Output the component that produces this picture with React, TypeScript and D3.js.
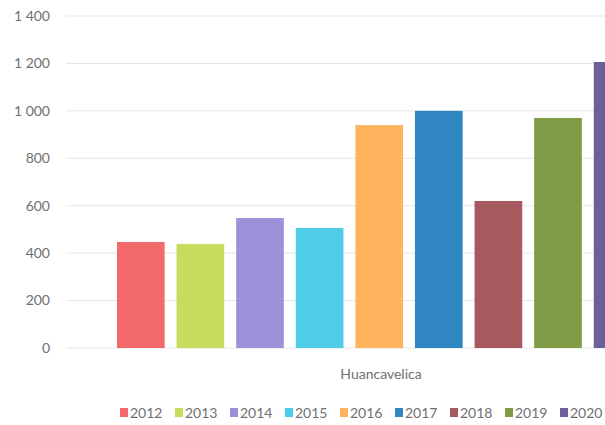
import React from "react";
import * as d3 from "d3";

const categories = ["Huancavelica"];
const years = ["2012", "2013", "2014", "2015", "2016", "2017", "2018", "2019", "2020"];
const values = [447, 439, 548, 506, 940, 1000, 620, 970, 1206];
const colors = ["#F26A6C", "#C6DC5C", "#9C90D8", "#4ECDEB", "#FDB45C", "#2F86C0", "#A65A5F", "#7F9B46", "#6B5F9C"];
const yTicks = [0, 200, 400, 600, 800, 1000, 1200, 1400];

const W = 605;
const H = 425;
const FONT = "Lato, 'Open Sans', sans-serif";

export default function App() {
  const y = d3.scaleLinear().domain([0, 1400]).range([348, 16]);
  const x0 = d3.scaleBand<string>().domain(categories).range([65, 697]);
  const x1 = d3
    .scaleBand<string>()
    .domain(years)
    .range([111, 647.4])
    .paddingInner(0.2)
    .paddingOuter(0.1);
  const fmt = (v: number) => d3.format(",")(v).replace(/,/g, " ");

  return (
    <svg width={W} height={H} style={{ position: "absolute", left: 0, top: 0, background: "#fff" }}>
      {yTicks.map((t) => (
        <g key={t}>
          <line x1={66} x2={W} y1={y(t)} y2={y(t)} stroke="#e6e6e6" strokeWidth={1} />
          <text x={50} y={y(t)} dy="0.35em" textAnchor="end" fontFamily={FONT} fontSize={14} fill="#707070">
            {fmt(t)}
          </text>
        </g>
      ))}
      {years.map((yr, i) => (
        <rect
          key={yr}
          x={x1(yr)}
          y={y(values[i])}
          width={x1.bandwidth()}
          height={y(0) - y(values[i])}
          fill={colors[i]}
        />
      ))}
      {categories.map((c) => (
        <text
          key={c}
          x={(x0(c) as number) + x0.bandwidth() / 2}
          y={379}
          textAnchor="middle"
          fontFamily={FONT}
          fontSize={14}
          fill="#707070"
        >
          {c}
        </text>
      ))}
      {years.map((yr, i) => {
        const lx = 120 + i * 55;
        return (
          <g key={yr}>
            <rect x={lx} y={408} width={8} height={9} fill={colors[i]} />
            <text x={lx + 10} y={418} fontFamily={FONT} fontSize={14} fill="#707070">
              {yr}
            </text>
          </g>
        );
      })}
    </svg>
  );
}
